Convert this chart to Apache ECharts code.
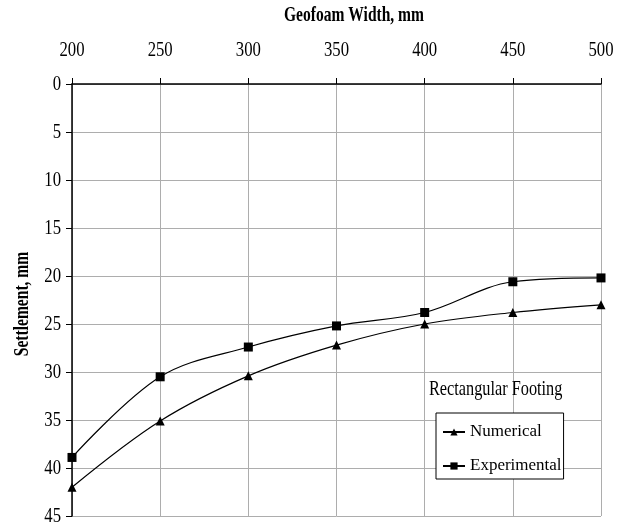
<!DOCTYPE html>
<html><head><meta charset="utf-8">
<script src="https://cdn.jsdelivr.net/npm/echarts@6/dist/echarts.min.js"></script>
<style>html,body{margin:0;padding:0;background:#fff}#c{width:626px;height:529px}</style>
</head><body><div id="c"></div>
<script>
const widths = [200, 250, 300, 350, 400, 450, 500];
const numerical = [42.0, 35.1, 30.4, 27.2, 25.0, 23.8, 23.0];
const experimental = [38.9, 30.5, 27.4, 25.2, 23.8, 20.6, 20.2];
const xTicks = [200, 250, 300, 350, 400, 450, 500];
const yTicks = [0, 5, 10, 15, 20, 25, 30, 35, 40, 45];
const xTitle = 'Geofoam Width, mm';
const yTitle = 'Settlement, mm';
const note = 'Rectangular Footing';

const font = 'Liberation Serif';
const SX = 0.76;
const chart = echarts.init(document.getElementById('c'));
chart.setOption({
  animation: false,
  backgroundColor: '#fff',
  grid: {left: 72, right: 25, top: 84, bottom: 13},
  xAxis: {
    type: 'value', position: 'top', min: 200, max: 500, interval: 50,
    axisLine: {show: true, lineStyle: {color: '#000', width: 1.5}},
    axisTick: {show: true, inside: false, length: 6, lineStyle: {color: '#000'}},
    axisLabel: {show: false},
    splitLine: {show: true, lineStyle: {color: '#adadad', width: 1}}
  },
  yAxis: {
    type: 'value', inverse: true, min: 0, max: 45, interval: 5,
    axisLine: {show: true, lineStyle: {color: '#000', width: 1.5}},
    axisTick: {show: true, inside: false, length: 6, lineStyle: {color: '#000'}},
    axisLabel: {show: false},
    splitLine: {show: true, lineStyle: {color: '#adadad', width: 1}}
  },
  legend: {
    orient: 'vertical', left: 436, top: 413,
    backgroundColor: '#fff', borderColor: '#000', borderWidth: 1, borderRadius: 0,
    padding: [9, 2, 3, 6], itemGap: 14, itemWidth: 22, itemHeight: 9,
    textStyle: {fontFamily: font, fontSize: 17, lineHeight: 20, color: '#000'},
    data: ['Numerical', 'Experimental']
  },
  series: [
    {
      name: 'Numerical', type: 'line', smooth: 0.35,
      data: widths.map((w, i) => [w, numerical[i]]),
      symbol: 'triangle', symbolSize: 9,
      lineStyle: {color: '#000', width: 1.2},
      itemStyle: {color: '#000'}
    },
    {
      name: 'Experimental', type: 'line', smooth: 0.35,
      data: widths.map((w, i) => [w, experimental[i]]),
      symbol: 'rect', symbolSize: 9,
      lineStyle: {color: '#000', width: 1.2},
      itemStyle: {color: '#000'}
    }
  ]
});

const g = [];
xTicks.forEach(v => {
  const p = chart.convertToPixel({gridIndex: 0}, [v, 0]);
  g.push({type: 'text', x: p[0], y: 50, scaleX: SX,
    style: {text: String(v), fontFamily: font, fontSize: 22, fill: '#000', align: 'center', verticalAlign: 'middle'}});
});
yTicks.forEach(v => {
  const p = chart.convertToPixel({gridIndex: 0}, [200, v]);
  g.push({type: 'text', x: 61, y: p[1], scaleX: SX,
    style: {text: String(v), fontFamily: font, fontSize: 22, fill: '#000', align: 'right', verticalAlign: 'middle'}});
});
g.push({type: 'text', x: 354, y: 16, scaleX: 0.74,
  style: {text: xTitle, fontFamily: font, fontWeight: 'bold', fontSize: 21, fill: '#000', align: 'center', verticalAlign: 'middle'}});
g.push({type: 'text', x: 23, y: 304, rotation: Math.PI / 2, scaleX: 0.74,
  style: {text: yTitle, fontFamily: font, fontWeight: 'bold', fontSize: 21, fill: '#000', align: 'center', verticalAlign: 'middle'}});
g.push({type: 'text', x: 429, y: 389, scaleX: 0.74,
  style: {text: note, fontFamily: font, fontSize: 22, fill: '#000', align: 'left', verticalAlign: 'middle'}});
chart.setOption({graphic: g});
</script></body></html>
